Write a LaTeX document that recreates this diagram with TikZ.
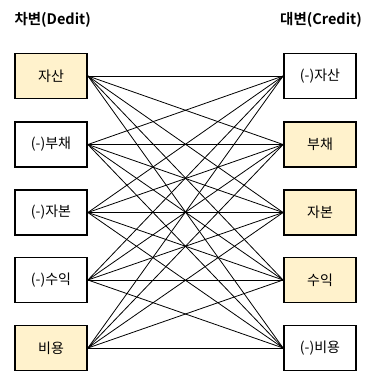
\documentclass[tikz,border=0pt]{standalone}
\usepackage{fontspec}
\setmainfont{Noto Sans CJK KR}
\newfontfamily\krbold{Noto Sans CJK KR Bold}
\definecolor{acctfill}{HTML}{FFF2CC}

\begin{document}
\begin{tikzpicture}[x=1pt,y=-1pt,
  acct/.style={draw,line width=1.8pt,minimum width=72pt,minimum height=45pt,inner sep=0pt,font=\fontsize{14}{16}\selectfont},
  hilite/.style={acct,fill=acctfill},
  plain/.style={acct,fill=white}]
\useasboundingbox (0,0) rectangle (372,386);
\node[anchor=west,font=\krbold\fontsize{14.5}{16}\selectfont] (dhead) at (11,20){차변(Dedit)};
\node[font=\krbold\fontsize{14.5}{16}\selectfont] (chead) at (321,20){대변(Credit)};
% left side (debit)
\foreach \i/\y/\s/\l in {1/76/hilite/{자산},2/144.5/plain/{(-)부채},3/212.5/plain/{(-)자본},4/280/plain/{(-)수익},5/348/hilite/{비용}}
  \node[\s] (d\i) at (51,\y){\l};
% right side (credit)
\foreach \i/\y/\s/\l in {1/76/plain/{(-)자산},2/144.5/hilite/{부채},3/212.5/hilite/{자본},4/280/hilite/{수익},5/348/plain/{(-)비용}}
  \node[\s] (c\i) at (320,\y){\l};
% every debit entry to every credit entry
\foreach \i in {1,...,5}
  \foreach \j in {1,...,5}
    \draw[line width=0.8pt] (d\i.east)--(c\j.west);
\end{tikzpicture}
\end{document}
